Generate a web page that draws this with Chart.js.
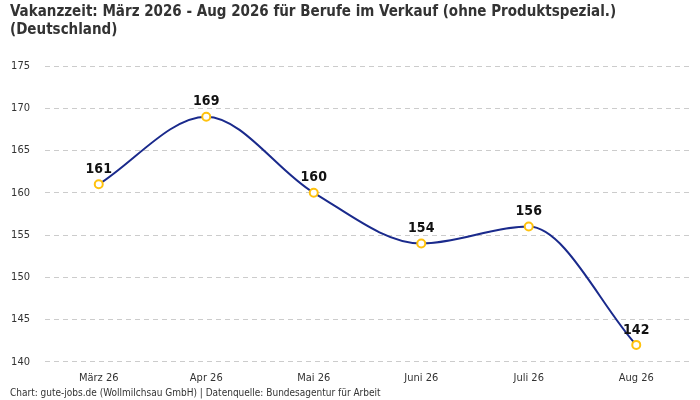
<!DOCTYPE html>
<html>
<head>
<meta charset="utf-8">
<script src="https://cdn.jsdelivr.net/npm/chart.js@4"></script>
<style>
  html, body { margin: 0; padding: 0; background: #fff; }
  #wrap { position: relative; width: 700px; height: 400px; }
</style>
</head>
<body>
<div id="wrap"><canvas id="vakanzChart"></canvas></div>
<script>
const months = ["März 26", "Apr 26", "Mai 26", "Juni 26", "Juli 26", "Aug 26"];
const vakanzTage = [161, 169, 160, 154, 156, 142];
const yTicks = [140, 145, 150, 155, 160, 165, 170, 175];

const FONT = "'DejaVu Sans Condensed', 'Roboto', sans-serif";

// draws value labels above each point
const pointLabels = {
  id: "pointLabels",
  afterDatasetsDraw(chart) {
    const ctx = chart.ctx;
    const meta = chart.getDatasetMeta(0);
    ctx.save();
    ctx.font = "bold 14px " + FONT;
    ctx.fillStyle = "#111";
    ctx.textAlign = "center";
    ctx.textBaseline = "bottom";
    meta.data.forEach((pt, i) => {
      ctx.fillText(String(vakanzTage[i]), pt.x, pt.y - 8);
    });
    ctx.restore();
  },
};

document.addEventListener("DOMContentLoaded", () => {
  const ctx = document.getElementById("vakanzChart").getContext("2d");
  new Chart(ctx, {
    type: "line",
    data: {
      labels: months,
      datasets: [
        {
          label: "Vakanzzeit",
          data: vakanzTage,
          borderColor: "#1a2a8c",
          borderWidth: 2,
          cubicInterpolationMode: "monotone",
          fill: false,
          pointRadius: 4,
          pointBorderWidth: 2,
          pointBackgroundColor: "#fff",
          pointBorderColor: "#ffc20e",
        },
      ],
    },
    options: {
      responsive: true,
      maintainAspectRatio: false,
      animation: false,
      layout: { padding: { left: 10, right: 10, top: 0, bottom: 0 } },
      plugins: {
        legend: { display: false },
        tooltip: { enabled: false },
        title: {
          display: true,
          text: [
            "Vakanzzeit: März 2026 - Aug 2026 für Berufe im Verkauf (ohne Produktspezial.)",
            "(Deutschland)",
          ],
          align: "start",
          color: "#333",
          font: { family: FONT, size: 15, weight: "bold", lineHeight: 1.2 },
          padding: { top: 3, bottom: 27 },
        },
        subtitle: {
          display: true,
          position: "bottom",
          align: "start",
          text: "Chart: gute-jobs.de (Wollmilchsau GmbH) | Datenquelle: Bundesagentur für Arbeit",
          color: "#333",
          font: { family: FONT, size: 10 },
          padding: { top: 0, bottom: 1 },
        },
      },
      scales: {
        x: {
          offset: true,
          grid: { display: false },
          border: { display: false },
          ticks: { color: "#333", padding: 2, font: { family: FONT, size: 11 } },
        },
        y: {
          min: 140,
          max: 175,
          afterBuildTicks: (axis) => {
            axis.ticks = yTicks.map((v) => ({ value: v }));
          },
          afterFit: (axis) => {
            axis.width = 35;
          },
          grid: { color: "#cccccc", tickLength: 0 },
          border: { display: false, dash: [5, 4] },
          ticks: { color: "#333", padding: 15, font: { family: FONT, size: 11 } },
        },
      },
    },
    plugins: [pointLabels],
  });
});
</script>
</body>
</html>
